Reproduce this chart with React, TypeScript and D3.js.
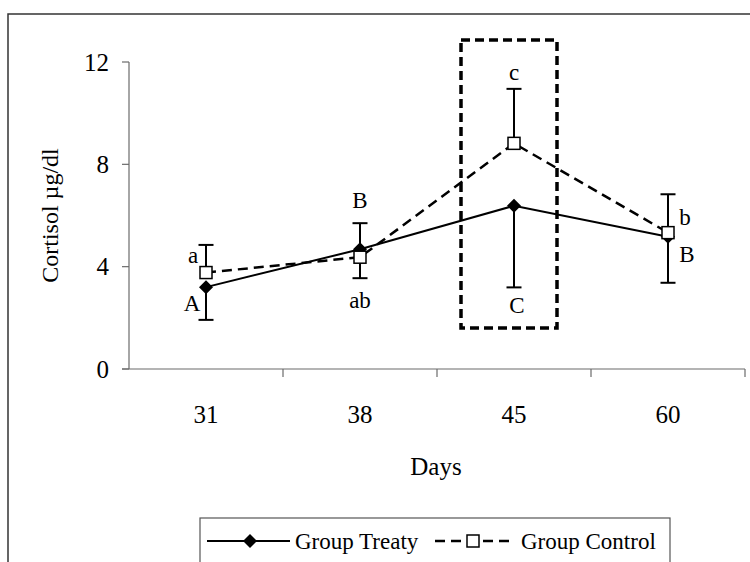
import React from "react";
import * as d3 from "d3";

const days = ["31", "38", "45", "60"];
const treaty = [3.2, 4.68, 6.38, 5.17];
const control = [3.77, 4.37, 8.82, 5.33];
// one-sided error bars as drawn: [minus, plus]
const treatyErrMinus = [1.28, 0, 3.19, 1.8];
const treatyErrPlus = [0, 1.02, 0, 0];
const controlErrMinus = [0, 0.82, 0, 0];
const controlErrPlus = [1.08, 0, 2.13, 1.5];
const treatyLetters = ["A", "B", "C", "B"];
const controlLetters = ["a", "ab", "c", "b"];
const yTicks = [0, 4, 8, 12];

const W = 750;
const H = 562;
const FONT = "'Liberation Serif', 'Times New Roman', serif";

export default function App() {
  const x = d3.scaleBand<string>().domain(days).range([129, 745]);
  const y = d3.scaleLinear().domain([0, 12]).range([369, 62]);
  const cx = (d: string) => (x(d) as number) + x.bandwidth() / 2;

  const lineT = d3
    .line<number>()
    .x((_, i) => cx(days[i]))
    .y((v) => y(v));

  const tickColor = "#6b6b6b";

  // label placement (pixel offsets relative to the marks)
  const treatyLabelPos = days.map((d, i) => {
    const px = cx(d);
    if (i === 0) return { x: px - 14, y: y(treaty[i]) + 16 };
    if (i === 1) return { x: px, y: y(treaty[i] + treatyErrPlus[i]) - 23 };
    if (i === 2) return { x: px + 3, y: y(treaty[i] - treatyErrMinus[i]) + 18 };
    return { x: px + 19, y: y(treaty[i]) + 18 };
  });
  const controlLabelPos = days.map((d, i) => {
    const px = cx(d);
    if (i === 0) return { x: px - 13, y: y(control[i]) - 17 };
    if (i === 1) return { x: px, y: y(control[i] - controlErrMinus[i]) + 22 };
    if (i === 2) return { x: px, y: y(control[i] + controlErrPlus[i]) - 16 };
    return { x: px + 17, y: y(control[i]) - 15 };
  });

  const diamond = (px: number, py: number, r: number) =>
    `M${px},${py - r}L${px + r},${py}L${px},${py + r}L${px - r},${py}Z`;

  const errBar = (px: number, y1: number, y2: number, key: string) => (
    <g key={key} stroke="#000" strokeWidth={2}>
      <line x1={px} x2={px} y1={y(y1)} y2={y(y2)} />
      <line x1={px - 7.5} x2={px + 7.5} y1={y(y2)} y2={y(y2)} />
    </g>
  );

  // highlight box around day 45
  const hx = cx("45");

  return (
    <svg width={W} height={H} style={{ position: "absolute", left: 0, top: 0 }} fontFamily={FONT}>
      <rect x={0} y={0} width={W} height={H} fill="#fff" />
      {/* outer frame */}
      <rect x={8} y={14} width={760} height={620} fill="none" stroke="#333" strokeWidth={1.5} />

      {/* y axis */}
      <line x1={129} x2={129} y1={y(12)} y2={y(0)} stroke={tickColor} strokeWidth={1.2} />
      {yTicks.map((t) => (
        <g key={t}>
          <line x1={122} x2={129} y1={y(t)} y2={y(t)} stroke={tickColor} strokeWidth={1.2} />
          <text x={109} y={y(t)} textAnchor="end" dominantBaseline="central" fontSize={25}>
            {t}
          </text>
        </g>
      ))}
      {/* x axis */}
      <line x1={122} x2={745} y1={y(0)} y2={y(0)} stroke={tickColor} strokeWidth={1.2} />
      {[...days.map((d) => x(d) as number), 745].map((v, i) =>
        i === 0 ? null : (
          <line key={i} x1={v} x2={v} y1={y(0)} y2={y(0) + 8} stroke={tickColor} strokeWidth={1.2} />
        )
      )}
      {days.map((d) => (
        <text key={d} x={cx(d)} y={414} textAnchor="middle" dominantBaseline="central" fontSize={25}>
          {d}
        </text>
      ))}
      <text x={436} y={466} textAnchor="middle" dominantBaseline="central" fontSize={25}>
        Days
      </text>
      <text
        transform={`translate(50,${(y(0) + y(12)) / 2}) rotate(-90)`}
        textAnchor="middle"
        dominantBaseline="central"
        fontSize={24}
      >
        Cortisol µg/dl
      </text>

      {/* dashed highlight box */}
      <rect
        x={hx - 53}
        y={40}
        width={96}
        height={288}
        fill="none"
        stroke="#000"
        strokeWidth={3.5}
        strokeDasharray="9,5"
      />

      {/* error bars */}
      {days.map((d, i) => (
        <g key={"e" + d}>
          {treatyErrMinus[i] > 0 && errBar(cx(d), treaty[i], treaty[i] - treatyErrMinus[i], "tm" + i)}
          {treatyErrPlus[i] > 0 && errBar(cx(d), treaty[i], treaty[i] + treatyErrPlus[i], "tp" + i)}
          {controlErrMinus[i] > 0 && errBar(cx(d), control[i], control[i] - controlErrMinus[i], "cm" + i)}
          {controlErrPlus[i] > 0 && errBar(cx(d), control[i], control[i] + controlErrPlus[i], "cp" + i)}
        </g>
      ))}

      {/* lines */}
      <path d={lineT(control) || ""} fill="none" stroke="#000" strokeWidth={2.5} strokeDasharray="10,6" />
      <path d={lineT(treaty) || ""} fill="none" stroke="#000" strokeWidth={2} />

      {/* markers */}
      {days.map((d, i) => (
        <path key={"t" + d} d={diamond(cx(d), y(treaty[i]), 7)} fill="#000" />
      ))}
      {days.map((d, i) => (
        <rect
          key={"c" + d}
          x={cx(d) - 6}
          y={y(control[i]) - 6}
          width={12}
          height={12}
          fill="#fff"
          stroke="#000"
          strokeWidth={1.5}
        />
      ))}

      {/* letters */}
      {treatyLetters.map((l, i) => (
        <text key={"tl" + i} x={treatyLabelPos[i].x} y={treatyLabelPos[i].y} textAnchor="middle" dominantBaseline="central" fontSize={23}>
          {l}
        </text>
      ))}
      {controlLetters.map((l, i) => (
        <text key={"cl" + i} x={controlLabelPos[i].x} y={controlLabelPos[i].y} textAnchor="middle" dominantBaseline="central" fontSize={23}>
          {l}
        </text>
      ))}

      {/* legend */}
      <rect x={200} y={518} width={470} height={80} fill="#fff" stroke="#555" strokeWidth={1.2} />
      <line x1={207} x2={290} y1={541} y2={541} stroke="#000" strokeWidth={2} />
      <path d={diamond(250, 541, 7)} fill="#000" />
      <text x={295} y={541} dominantBaseline="central" fontSize={23}>
        Group Treaty
      </text>
      <line x1={435} x2={515} y1={541} y2={541} stroke="#000" strokeWidth={2.5} strokeDasharray="10,6" />
      <rect x={467} y={535} width={12} height={12} fill="#fff" stroke="#000" strokeWidth={1.5} />
      <text x={521} y={541} dominantBaseline="central" fontSize={23}>
        Group Control
      </text>
    </svg>
  );
}
